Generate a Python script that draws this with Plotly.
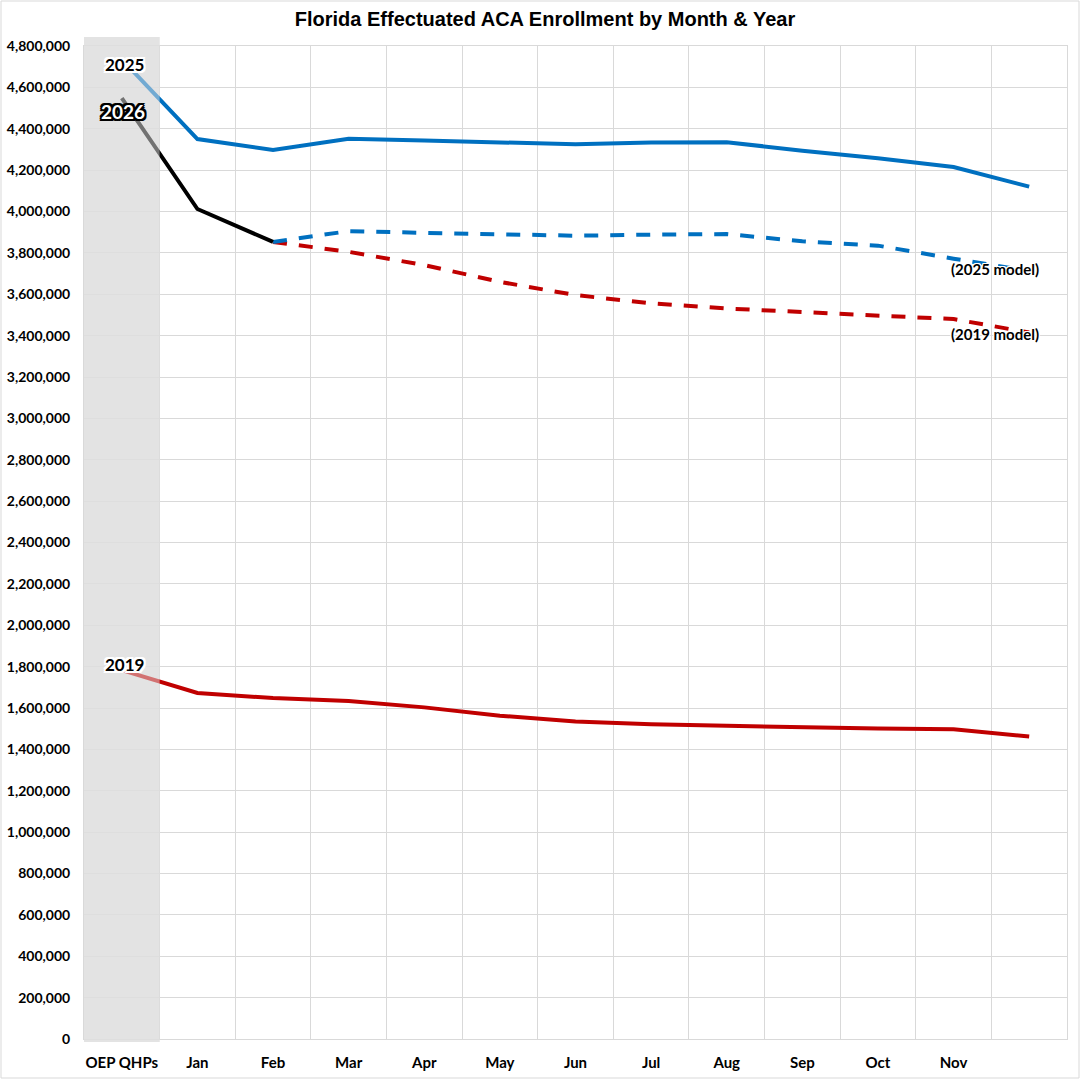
import plotly.graph_objects as go

# ---- data ----
categories = ["OEP QHPs", "Jan", "Feb", "Mar", "Apr", "May", "Jun",
              "Jul", "Aug", "Sep", "Oct", "Nov", "Dec"]
tick_labels = ["OEP QHPs", "Jan", "Feb", "Mar", "Apr", "May", "Jun",
               "Jul", "Aug", "Sep", "Oct", "Nov", ""]
enroll_2025 = [4735000, 4350000, 4297000, 4352000, 4343000, 4333000, 4325000,
               4333000, 4335000, 4294000, 4257000, 4215000, 4120000]
enroll_2026 = [4548000, 4012000, 3853000, None, None, None, None,
               None, None, None, None, None, None]
model_2025 = [None, None, 3853000, 3905000, 3897000, 3892000, 3883000,
              3888000, 3891000, 3856000, 3835000, 3772000, 3712000]
model_2019 = [None, None, 3853000, 3805000, 3741000, 3660000, 3596000,
              3556000, 3531000, 3513000, 3496000, 3480000, 3415000]
enroll_2019 = [1783000, 1673000, 1648000, 1634000, 1603000, 1563000, 1535000,
               1522000, 1514000, 1506000, 1501000, 1497000, 1462000]

BLUE = "#0070C0"
RED = "#C00000"
BLACK = "#000000"
GRID = "#D9D9D9"
BAND = "#E3E3E3"

W, H = 1081, 1080
L, R, T, B = 84, 14, 46, 41
PW, PH = W - L - R, H - T - B

xi = list(range(len(categories)))

fig = go.Figure()

def add_line(y, color, dash="solid", width=4):
    fig.add_trace(go.Scatter(
        x=xi, y=y, mode="lines", connectgaps=False,
        line=dict(color=color, width=width, dash=dash),
        hoverinfo="skip", showlegend=False))

dash_pat = "14px,12px"
add_line(model_2019, RED, dash_pat)
add_line(model_2025, BLUE, dash_pat)
add_line(enroll_2019, RED)
add_line(enroll_2025, BLUE)
add_line(enroll_2026, BLACK)

# shaded OEP band (opaque below, translucent above the lines)
band_y0 = -3 / PH
band_y1 = 1 + 9 / PH
fig.add_shape(type="rect", xref="x", yref="paper", x0=-0.5, x1=0.5,
              y0=band_y0, y1=band_y1, fillcolor=BAND, line_width=0, layer="below")
fig.add_shape(type="rect", xref="x", yref="paper", x0=-0.5, x1=0.5,
              y0=band_y0, y1=band_y1, fillcolor=BAND, opacity=0.5,
              line_width=0, layer="above")

# outer chart border
fig.add_shape(type="rect", xref="paper", yref="paper",
              x0=-(L - 1) / PW, x1=1 + (R - 2) / PW,
              y0=-(B - 2) / PH, y1=1 + (T - 1) / PH,
              line=dict(color=GRID, width=1), fillcolor="rgba(0,0,0,0)", layer="below")

def halo(c, d=1):
    pts = [(-d, -d), (d, -d), (-d, d), (d, d), (0, d), (0, -d), (d, 0), (-d, 0)]
    return ", ".join(f"{a}px {b}px 0 {c}" for a, b in pts)

def halo2(c):
    return halo(c, 1) + ", " + halo(c, 2)

FONT = "Lato"
ann = [
    dict(x=0.03, y=4713000, text="2025", size=17, color="black", shadow=halo2("white")),
    dict(x=0.01, y=4481000, text="2026", size=19, color="white", shadow=halo2("black")),
    dict(x=0.03, y=1808000, text="2019", size=17, color="black", shadow=halo2("white")),
    dict(x=11.55, y=3722000, text="(2025 model)", size=15, color="black", shadow=halo("white", 1)),
    dict(x=11.55, y=3408000, text="(2019 model)", size=15, color="black", shadow=halo("white", 1)),
]
for a in ann:
    fig.add_annotation(x=a["x"], y=a["y"], xref="x", yref="y", text=a["text"],
                       showarrow=False, xanchor="center", yanchor="middle",
                       font=dict(family=FONT, size=a["size"], color=a["color"],
                                 weight="bold", shadow=a["shadow"]))

fig.update_layout(
    width=W, height=H,
    margin=dict(l=L, r=R, t=T, b=B, autoexpand=False),
    paper_bgcolor="white", plot_bgcolor="white",
    title=dict(text="Florida Effectuated ACA Enrollment by Month & Year",
               x=545 / W, xref="container", xanchor="center",
               y=1 - 19 / H, yref="container", yanchor="middle",
               font=dict(family="Liberation Sans, Arial", size=20, color="black", weight="bold")),
    showlegend=False,
)
fig.update_xaxes(
    range=[-0.5, len(categories) - 0.5],
    tickmode="array", tickvals=xi, ticktext=tick_labels,
    showgrid=False, zeroline=False, ticks="",
    tickfont=dict(family=FONT, size=15, color="black", weight="bold"),
    ticklabelstandoff=10,
    minor=dict(tickmode="array", tickvals=[i - 0.5 for i in range(len(categories) + 1)],
               showgrid=True, gridcolor=GRID, gridwidth=1, ticks=""),
    showline=True, linecolor=GRID, mirror=True,
)
fig.update_yaxes(
    range=[0, 4800000], dtick=200000, tickformat=",d",
    showgrid=True, gridcolor=GRID, gridwidth=1, zeroline=False, ticks="",
    tickfont=dict(family=FONT, size=14, color="black", weight="bold"),
    ticklabelstandoff=10,
    showline=True, linecolor=GRID, mirror=True,
)

fig.write_html(
    "out.html",
    config={"displayModeBar": False},
    post_script="document.body.style.margin='0';document.body.style.overflow='hidden';",
)
